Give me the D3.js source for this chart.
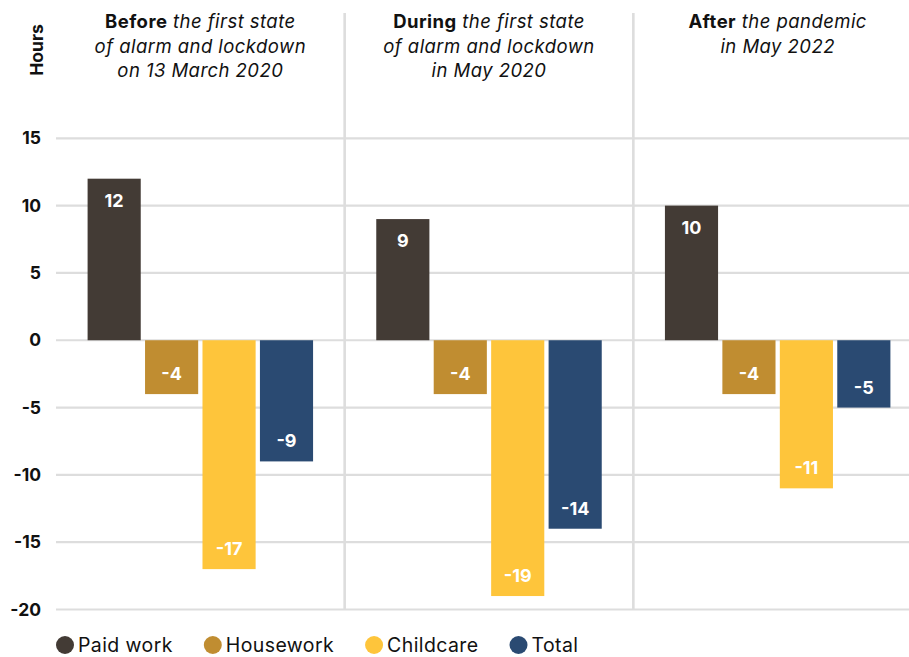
<!DOCTYPE html>
<html>
<head>
<meta charset="utf-8">
<script src="https://cdn.jsdelivr.net/npm/d3@7/dist/d3.min.js"></script>
<style>
  html, body { margin: 0; padding: 0; background: #fff; }
  svg { display: block; font-family: "Inter", "Lato", sans-serif; }
</style>
</head>
<body>
<svg id="chart" width="909" height="657"></svg>
<script>
// Weekly hours gap (women minus men) by activity, across three survey moments
const periods = ["before", "during", "after"];
const periodBold = ["Before", "During", "After"];
const periodItalic = [
  [" the first state", "of alarm and lockdown", "on 13 March 2020"],
  [" the first state", "of alarm and lockdown", "in May 2020"],
  [" the pandemic", "in May 2022"]
];
const series = ["Paid work", "Housework", "Childcare", "Total"];
const seriesColors = ["#433b35", "#c08d31", "#fec53b", "#2a4a72"];
const paidWork = [12, 9, 10];
const housework = [-4, -4, -4];
const childcare = [-17, -19, -11];
const total = [-9, -14, -5];
const yTicks = [15, 10, 5, 0, -5, -10, -15, -20];

const seriesValues = [paidWork, housework, childcare, total];
const rows = [];
periods.forEach((p, i) => {
  series.forEach((s, j) => rows.push({ period: p, series: s, value: seriesValues[j][i], color: seriesColors[j] }));
});

// Plain hyphen-minus for negative numbers
const fmt = v => String(v);

const svg = d3.select("#chart");
const W = 909;
const gridLeft = 56;

const y = d3.scaleLinear().domain([-20, 15]).range([609.5, 138.3]);
const x0 = d3.scaleBand().domain(periods).range([gridLeft, 922]).padding(0);
const x1 = d3.scaleBand().domain(series).range([0, x0.bandwidth()])
  .paddingInner(0.075).paddingOuter(0.55);

// Horizontal gridlines
svg.append("g").selectAll("line").data(yTicks).join("line")
  .attr("x1", gridLeft).attr("x2", W)
  .attr("y1", d => y(d)).attr("y2", d => y(d))
  .attr("stroke", "#dddddd").attr("stroke-width", 2.2);

// Panel separators
svg.append("g").selectAll("line").data(periods.slice(1)).join("line")
  .attr("x1", d => x0(d)).attr("x2", d => x0(d))
  .attr("y1", 13).attr("y2", y(-20))
  .attr("stroke", "#dddddd").attr("stroke-width", 2.6);

// Y axis labels
const yAxis = d3.axisLeft(y).tickValues(yTicks).tickSize(0).tickPadding(0).tickFormat(fmt);
const yg = svg.append("g").attr("transform", "translate(41,0)").call(yAxis);
yg.select(".domain").remove();
yg.selectAll("text")
  .attr("font-family", "Inter, Lato, sans-serif")
  .attr("font-size", 17.5).attr("font-weight", 700).attr("fill", "#111");

// Axis title
svg.append("text")
  .attr("transform", "translate(43,50) rotate(-90)")
  .attr("text-anchor", "middle")
  .attr("font-size", 17.5).attr("font-weight", 700).attr("fill", "#111")
  .text("Hours");

// Panel headings
periods.forEach((p, i) => {
  const cx = x0(p) + x0.bandwidth() / 2;
  const t = svg.append("text").attr("text-anchor", "middle")
    .attr("font-size", 18.5).attr("letter-spacing", 0.45).attr("fill", "#111");
  const lines = periodItalic[i];
  lines.forEach((ln, k) => {
    if (k === 0) {
      const first = t.append("tspan").attr("x", cx).attr("y", 28);
      first.append("tspan").attr("font-weight", 700).text(periodBold[i]);
      first.append("tspan").attr("font-style", "italic").text(ln);
    } else {
      t.append("tspan").attr("x", cx).attr("y", 28 + k * 24.5)
        .attr("font-style", "italic").text(ln);
    }
  });
});

// Bars
const bars = svg.append("g").selectAll("g").data(rows).join("g")
  .attr("transform", d => `translate(${x0(d.period) + x1(d.series)},0)`);

bars.append("rect")
  .attr("x", 0).attr("width", x1.bandwidth())
  .attr("y", d => y(Math.max(0, d.value)))
  .attr("height", d => Math.abs(y(d.value) - y(0)))
  .attr("fill", d => d.color);

bars.append("text")
  .attr("x", x1.bandwidth() / 2)
  .attr("y", d => d.value >= 0 ? y(d.value) + 28 : y(d.value) - 14)
  .attr("text-anchor", "middle")
  .attr("font-size", 18).attr("font-weight", 700).attr("fill", "#fff")
  .text(d => fmt(d.value));

// Legend
const legend = svg.append("g");
let lx = 65;
series.forEach((s, j) => {
  legend.append("circle").attr("cx", lx).attr("cy", 645).attr("r", 9).attr("fill", seriesColors[j]);
  const t = legend.append("text").attr("x", lx + 13).attr("y", 645).attr("dy", "0.35em")
    .attr("font-size", 19.5).attr("letter-spacing", 0.4).attr("fill", "#111").text(s);
  lx = lx + 13 + t.node().getComputedTextLength() + 40;
});
</script>
</body>
</html>
